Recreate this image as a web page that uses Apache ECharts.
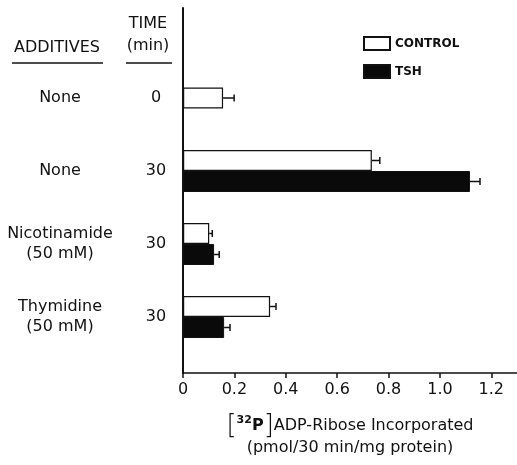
<!DOCTYPE html>
<html>
<head>
<meta charset="utf-8">
<script src="https://cdn.jsdelivr.net/npm/echarts@6/dist/echarts.min.js"></script>
<style>
  html, body { margin: 0; padding: 0; background: #fff; }
  #chart { width: 517px; height: 465px; }
</style>
</head>
<body>
<div id="chart"></div>
<script>
  // rows, top to bottom
  const additives = ['None', 'None', 'Nicotinamide\n(50 mM)', 'Thymidine\n(50 mM)']
  const times = ['0', '30', '30', '30']
  const control = [0.156, 0.735, 0.102, 0.339]
  const controlErr = [0.043, 0.031, 0.012, 0.023]
  const tsh = [null, 1.117, 0.121, 0.16]
  const tshErr = [null, 0.039, 0.02, 0.023]
  const xMin = 0
  const xMax = 1.3
  const xStep = 0.2

  const FONT = 'DejaVu Sans'
  const INK = '#111'
  const BAR_W = 21

  // a row with no TSH bar gets its control bar centred (own axis)
  const controlPaired = control.map((v, i) => tsh[i] == null ? '-' : v)
  const controlSingle = control.map((v, i) => tsh[i] == null ? v : '-')

  const errData = (vals, errs, shift) => vals
    .map((v, i) => v == null ? null : [v, i, v + errs[i], tsh[i] == null ? 0 : shift])
    .filter(d => d)

  function renderErr (params, api) {
    const v = api.value(0)
    const row = api.value(1)
    const hi = api.value(2)
    const shift = api.value(3)
    const a = api.coord([v, row])
    const b = api.coord([hi, row])
    const y = a[1] + shift * BAR_W / 2
    const style = { stroke: INK, lineWidth: 1.5 }
    return {
      type: 'group',
      children: [
        { type: 'line', shape: { x1: a[0], y1: y, x2: b[0], y2: y }, style },
        { type: 'line', shape: { x1: b[0], y1: y - 3.5, x2: b[0], y2: y + 3.5 }, style }
      ]
    }
  }

  const chart = echarts.init(document.getElementById('chart'))
  const option = {
    animation: false,
    textStyle: { fontFamily: FONT, color: INK },
    legend: {
      data: ['CONTROL', 'TSH'],
      orient: 'vertical',
      left: 363,
      top: 36,
      padding: 0,
      icon: 'rect',
      itemWidth: 26,
      itemHeight: 13,
      itemGap: 13,
      textStyle: { fontFamily: FONT, fontSize: 12, fontWeight: 'bold', color: INK }
    },
    grid: [
      { left: 183, right: 0, top: 8, bottom: 92, outerBoundsMode: 'none', containLabel: false },
      { left: 183, right: 0, top: 61.5, height: 292, outerBoundsMode: 'none', containLabel: false }
    ],
    xAxis: [
      {
        gridIndex: 0,
        type: 'value',
        min: xMin,
        max: xMax,
        interval: xStep,
        splitLine: { show: false },
        axisLine: { show: true, lineStyle: { color: INK, width: 1.5 } },
        axisTick: { show: true, length: 5, lineStyle: { color: INK, width: 1.5 } },
        axisLabel: {
          margin: 9,
          fontSize: 16,
          color: INK,
          showMaxLabel: false,
          formatter: v => v > 1.21 ? '' : (v === 0 ? '0' : v.toFixed(1))
        },
        name: '{br|[}{sup|32}{p|P}{br|]}ADP-Ribose Incorporated\n(pmol/30 min/mg protein)',
        nameLocation: 'middle',
        nameGap: 42,
        nameTextStyle: {
          fontSize: 16,
          lineHeight: 22,
          color: INK,
          rich: {
            br: { fontSize: 26, lineHeight: 22, color: INK, fontWeight: 'lighter' },
            sup: { fontSize: 11, lineHeight: 22, verticalAlign: 'top', color: INK, fontWeight: 'bold' },
            p: { fontSize: 16, lineHeight: 22, color: INK, fontWeight: 'bold' }
          }
        }
      },
      {
        gridIndex: 1,
        type: 'value',
        min: xMin,
        max: xMax,
        show: false
      }
    ],
    yAxis: [
      {
        gridIndex: 1,
        type: 'category',
        position: 'left',
        inverse: true,
        data: additives,
        axisLine: { show: false },
        axisTick: { show: false },
        axisLabel: { margin: 123, align: 'center', fontSize: 16, lineHeight: 20, color: INK }
      },
      {
        gridIndex: 1,
        type: 'category',
        position: 'left',
        inverse: true,
        data: times,
        axisLine: { show: false },
        axisTick: { show: false },
        axisLabel: { margin: 27, align: 'center', fontSize: 16, color: INK }
      },
      {
        gridIndex: 0,
        type: 'value',
        position: 'left',
        min: 0,
        max: 1,
        axisLine: { show: true, lineStyle: { color: INK, width: 2 } },
        axisTick: { show: false },
        axisLabel: { show: false },
        splitLine: { show: false }
      }
    ],
    series: [
      {
        name: 'CONTROL',
        type: 'bar',
        xAxisIndex: 1,
        yAxisIndex: 0,
        barWidth: BAR_W,
        barGap: '0%',
        data: controlPaired,
        itemStyle: { color: '#fff', borderColor: INK, borderWidth: 1.2 }
      },
      {
        name: 'TSH',
        type: 'bar',
        xAxisIndex: 1,
        yAxisIndex: 0,
        barWidth: BAR_W,
        barGap: '0%',
        data: tsh.map(v => v == null ? '-' : v),
        itemStyle: { color: '#0a0a0a', borderColor: INK, borderWidth: 1 }
      },
      {
        name: 'CONTROL',
        type: 'bar',
        xAxisIndex: 1,
        yAxisIndex: 1,
        barWidth: BAR_W,
        data: controlSingle,
        itemStyle: { color: '#fff', borderColor: INK, borderWidth: 1.2 }
      },
      {
        name: 'controlErr',
        type: 'custom',
        xAxisIndex: 1,
        yAxisIndex: 0,
        renderItem: renderErr,
        encode: { x: [0, 2], y: 1 },
        data: errData(control, controlErr, -1),
        z: 5
      },
      {
        name: 'tshErr',
        type: 'custom',
        xAxisIndex: 1,
        yAxisIndex: 0,
        renderItem: renderErr,
        encode: { x: [0, 2], y: 1 },
        data: errData(tsh, tshErr, 1),
        z: 5
      }
    ],
    graphic: [
      { type: 'text', x: 57, y: 47.5, style: { text: 'ADDITIVES', font: '16px "DejaVu Sans"', fill: INK, align: 'center', verticalAlign: 'middle' } },
      { type: 'text', x: 148, y: 24, style: { text: 'TIME', font: '16px "DejaVu Sans"', fill: INK, align: 'center', verticalAlign: 'middle' } },
      { type: 'text', x: 148, y: 46, style: { text: '(min)', font: '16px "DejaVu Sans"', fill: INK, align: 'center', verticalAlign: 'middle' } },
      { type: 'line', shape: { x1: 12, y1: 63, x2: 103, y2: 63 }, style: { stroke: INK, lineWidth: 1.5 } },
      { type: 'line', shape: { x1: 126, y1: 63, x2: 172, y2: 63 }, style: { stroke: INK, lineWidth: 1.5 } }
    ]
  }
  chart.setOption(option)
</script>
</body>
</html>
